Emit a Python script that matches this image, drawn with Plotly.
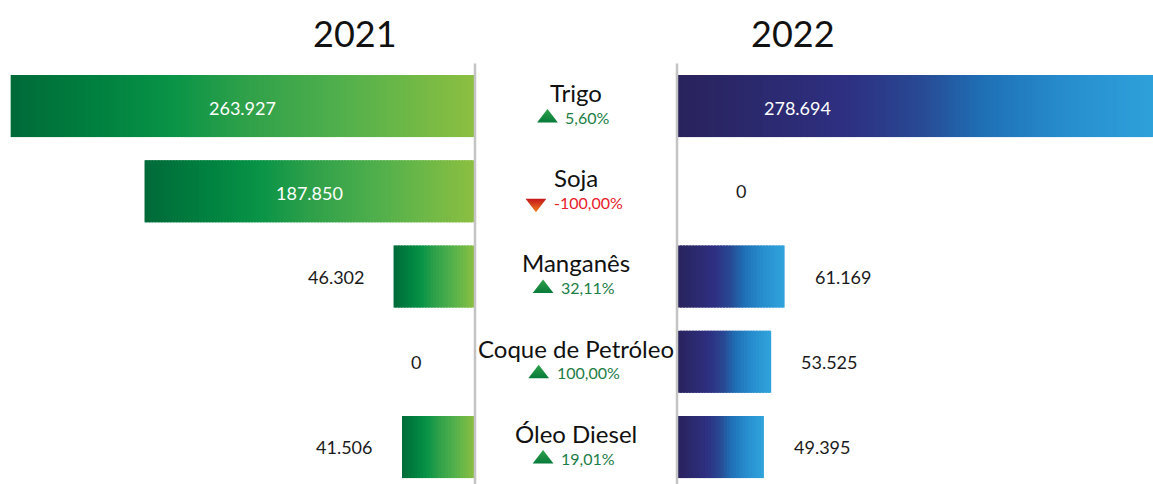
import plotly.graph_objects as go
from plotly.colors import sample_colorscale

# --- dados ---------------------------------------------------------------
categorias = ["Trigo", "Soja", "Manganês", "Coque de Petróleo", "Óleo Diesel"]
valores_2021 = [263927, 187850, 46302, 0, 41506]
valores_2022 = [278694, 0, 61169, 53525, 49395]
variacao_pct = [5.60, -100.00, 32.11, 100.00, 19.01]
anos = ["2021", "2022"]

# --- layout em pixels ----------------------------------------------------
W, H = 1153, 484
EIXO_ESQ, EIXO_DIR = 475, 677          # linhas verticais que separam os painéis
CENTRO = (EIXO_ESQ + EIXO_DIR) / 2
UNID_POR_PX = 568.4                    # escala comum aos dois painéis
PASSO_PX = 85.25                       # distância entre linhas
TOPO_PX = 63.4                         # topo da primeira linha
MEIA_BARRA = 0.364                     # metade da espessura da barra (em linhas)
PX_POR_FAIXA = 3                       # largura de cada faixa do degradê

y_topo = -0.5 - TOPO_PX / PASSO_PX
y_base = y_topo + H / PASSO_PX

FONTE = "Lato, 'Noto Sans', sans-serif"

VERDES = [[0.0, "#006A39"], [0.18, "#00803F"], [0.35, "#099447"],
          [0.5, "#2EA04A"], [0.7, "#4FAF4C"], [0.85, "#6DB847"], [1.0, "#8DBF41"]]
AZUIS = [[0.0, "#29235C"], [0.35, "#2E3082"], [0.5, "#284A94"],
         [0.62, "#1F6FB5"], [0.8, "#278ECE"], [1.0, "#30A4DC"]]


def fmt_milhar(v):
    return f"{v:,}".replace(",", ".")


def fmt_pct(p):
    return f"{p:.2f}".replace(".", ",") + "%"


def largura_texto(txt, tam):
    # estimativa simples da largura de um texto curto (dígitos, vírgula, %, -)
    larg = {",": 0.26, "%": 0.78, "-": 0.34}
    return sum(larg.get(c, 0.55) for c in txt) * tam


def barras_degrade(valores, escala, esquerda_escura):
    """Quebra cada barra em faixas finas coloridas ao longo do degradê."""
    bases, comps, ys, cores = [], [], [], []
    for i, v in enumerate(valores):
        if v <= 0:
            continue
        n = max(8, int(v / UNID_POR_PX / PX_POR_FAIXA))
        pos = [(k + 0.5) / n for k in range(n)]
        # no painel invertido a ponta da barra (valor máximo) fica à esquerda
        t = [1 - p for p in pos] if esquerda_escura else pos
        cs = sample_colorscale(escala, t)
        for k in range(n):
            b = v * k / n
            fim = min(v * (k + 1.6) / n, v)
            bases.append(b)
            comps.append(fim - b)
            ys.append(i)
            cores.append(cs[k])
    return bases, comps, ys, cores


fig = go.Figure()

b, c, y, cor = barras_degrade(valores_2021, VERDES, esquerda_escura=True)
fig.add_trace(go.Bar(base=b, x=c, y=y, orientation="h", xaxis="x", yaxis="y",
                     width=2 * MEIA_BARRA, marker=dict(color=cor, line=dict(width=0)),
                     hoverinfo="skip", showlegend=False))
b, c, y, cor = barras_degrade(valores_2022, AZUIS, esquerda_escura=False)
fig.add_trace(go.Bar(base=b, x=c, y=y, orientation="h", xaxis="x2", yaxis="y",
                     width=2 * MEIA_BARRA, marker=dict(color=cor, line=dict(width=0)),
                     hoverinfo="skip", showlegend=False))

anotacoes = []
LIMIAR_DENTRO = 100000
ALCANCE_ROTULO = 240 * UNID_POR_PX
FONTE_VALOR = 18

for i, (v21, v22) in enumerate(zip(valores_2021, valores_2022)):
    # painel 2021 (cresce para a esquerda)
    if v21 >= LIMIAR_DENTRO:
        anotacoes.append(dict(xref="x", yref="y", x=v21 / 2, y=i, yshift=-2,
                              text=fmt_milhar(v21), showarrow=False,
                              font=dict(size=FONTE_VALOR, color="white", family=FONTE)))
    else:
        anotacoes.append(dict(xref="x", yref="y", x=v21, y=i, text=fmt_milhar(v21),
                              xanchor="right", xshift=-(28 if v21 else 52), showarrow=False,
                              font=dict(size=FONTE_VALOR, color="#1A1A1A", family=FONTE)))
    # painel 2022 (cresce para a direita)
    if v22 >= LIMIAR_DENTRO:
        anotacoes.append(dict(xref="x2", yref="y", x=min(v22, ALCANCE_ROTULO) / 2, y=i,
                              yshift=-2, text=fmt_milhar(v22), showarrow=False,
                              font=dict(size=FONTE_VALOR, color="white", family=FONTE)))
    else:
        anotacoes.append(dict(xref="x2", yref="y", x=v22, y=i, text=fmt_milhar(v22),
                              xanchor="left", xshift=(28 if v22 else 57), showarrow=False,
                              font=dict(size=FONTE_VALOR, color="#1A1A1A", family=FONTE)))

# nomes das categorias e variação
TAM_PCT = 16
TRI_L, FOLGA = 16, 8
tri_x, tri_y, tri_simb, tri_cor, tri_grad = [], [], [], [], []
for i, (nome, p) in enumerate(zip(categorias, variacao_pct)):
    anotacoes.append(dict(xref="x3", yref="y", x=CENTRO, y=i - 0.16, text=nome,
                          showarrow=False, font=dict(size=24, color="#111111", family=FONTE)))
    txt = fmt_pct(p)
    grupo = TRI_L + FOLGA + largura_texto(txt, TAM_PCT)
    esq = CENTRO - 3 - grupo / 2
    sobe = p >= 0
    cor_txt = "#1C7D46" if sobe else "#E8202A"
    anotacoes.append(dict(xref="x3", yref="y", x=esq + TRI_L + FOLGA, y=i + 0.13, text=txt,
                          xanchor="left", showarrow=False,
                          font=dict(size=TAM_PCT, color=cor_txt, family=FONTE)))
    tri_x.append(esq + TRI_L / 2)
    tri_y.append(i + 0.14)
    tri_simb.append("triangle-up" if sobe else "triangle-down")
    tri_cor.append("#2FA24C" if sobe else "#C4161C")
    tri_grad.append("#087A3A" if sobe else "#F07F1E")

fig.add_trace(go.Scatter(
    x=tri_x, y=tri_y, xaxis="x3", yaxis="y", mode="markers",
    marker=dict(symbol=tri_simb, size=18, color=tri_cor, line=dict(width=0),
                gradient=dict(type="vertical", color=tri_grad)),
    hoverinfo="skip", showlegend=False,
))

# títulos dos anos
for ano, xc in zip(anos, [355, 793]):
    anotacoes.append(dict(xref="x3", yref="paper", x=xc, y=1 - 33 / H, text=ano,
                          yanchor="middle", showarrow=False,
                          font=dict(size=36, color="#111111", family=FONTE)))

# linhas verticais dos eixos
formas = [dict(type="line", xref="x3", yref="y", x0=xp, x1=xp, y0=-0.5, y1=y_base,
               line=dict(color="#C4C4C4", width=2.5), layer="above")
          for xp in (EIXO_ESQ, EIXO_DIR)]

eixo_oculto = dict(visible=False, showgrid=False, zeroline=False, fixedrange=True)
fig.update_layout(
    width=W, height=H,
    margin=dict(l=0, r=0, t=0, b=0),
    paper_bgcolor="white", plot_bgcolor="rgba(0,0,0,0)",
    barmode="overlay",
    xaxis=dict(domain=[0, EIXO_ESQ / W], range=[EIXO_ESQ * UNID_POR_PX, 0],
               anchor="y", **eixo_oculto),
    xaxis2=dict(domain=[EIXO_DIR / W, 1], range=[0, (W - EIXO_DIR) * UNID_POR_PX],
                anchor="y", **eixo_oculto),
    xaxis3=dict(domain=[0, 1], range=[0, W], anchor="y", **eixo_oculto),
    yaxis=dict(domain=[0, 1], range=[y_base, y_topo], **eixo_oculto),
    annotations=anotacoes,
    shapes=formas,
    font=dict(family=FONTE),
)

fig.write_html("out.html")
